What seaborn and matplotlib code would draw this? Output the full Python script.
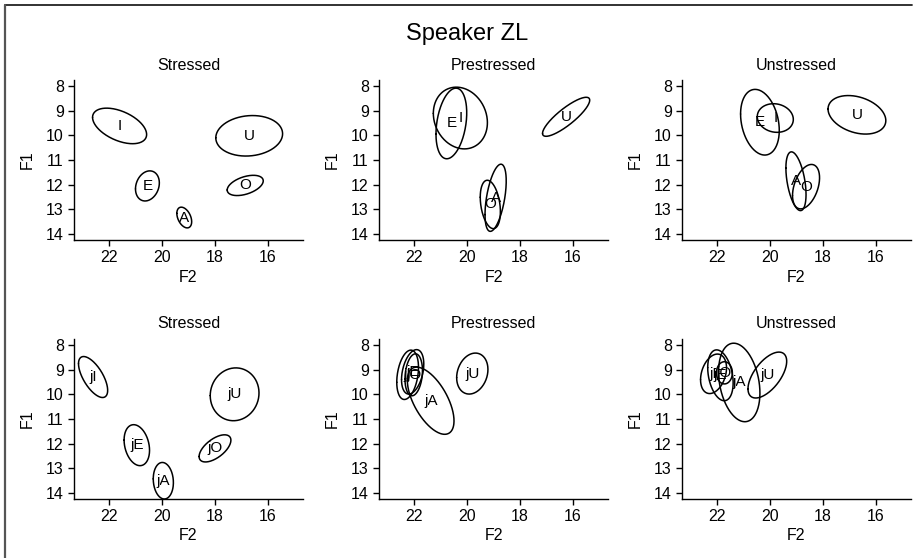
import numpy as np
import pandas as pd
import matplotlib
matplotlib.use("Agg")
import matplotlib.pyplot as plt
from matplotlib.lines import Line2D
import seaborn as sns

# ---- data: vowel ellipses (F2 centre, F1 centre, F2 radius, F1 radius, correlation) ----
conditions = ["Stressed", "Prestressed", "Unstressed"]
vowels = ["I", "E", "A", "O", "U"]
jvowels = ["jI", "jE", "jA", "jO", "jU"]

# plain vowels, stressed
st_f2 = [21.60, 20.55, 19.16, 16.86, 16.71]
st_f1 = [9.62, 12.05, 13.33, 12.03, 10.02]
st_f2_rad = [1.02, 0.45, 0.28, 0.68, 1.26]
st_f1_rad = [0.72, 0.61, 0.42, 0.41, 0.82]
st_rho = [-0.48, 0.20, -0.40, 0.45, 0.10]

# plain vowels, prestressed
pre_f2 = [20.25, 20.59, 18.92, 19.12, 16.26]
pre_f1 = [9.30, 9.52, 12.53, 12.80, 9.25]
pre_f2_rad = [1.02, 0.58, 0.40, 0.38, 0.89]
pre_f1_rad = [1.25, 1.43, 1.36, 0.98, 0.79]
pre_rho = [-0.15, 0.30, 0.50, -0.30, 0.85]

# plain vowels, unstressed
un_f2 = [19.80, 20.38, 19.02, 18.64, 16.72]
un_f1 = [9.30, 9.47, 11.86, 12.08, 9.17]
un_f2_rad = [0.68, 0.73, 0.38, 0.51, 1.09]
un_f1_rad = [0.58, 1.33, 1.19, 0.90, 0.78]
un_rho = [-0.10, -0.25, -0.45, 0.40, -0.30]

# j-vowels, stressed
jst_f2 = [22.60, 20.95, 19.95, 18.00, 17.26]
jst_f1 = [9.30, 12.06, 13.50, 12.19, 10.00]
jst_f2_rad = [0.55, 0.48, 0.38, 0.60, 0.92]
jst_f1_rad = [0.83, 0.83, 0.74, 0.55, 1.07]
jst_rho = [-0.65, -0.25, -0.10, 0.60, 0.05]

# j-vowels, prestressed
jpre_f2 = [22.24, 22.05, 21.37, 22.01, 19.80]
jpre_f1 = [9.21, 9.09, 10.26, 9.21, 9.16]
jpre_f2_rad = [0.41, 0.42, 0.88, 0.33, 0.59]
jpre_f1_rad = [1.00, 0.90, 1.36, 0.85, 0.83]
jpre_rho = [0.30, 0.35, -0.60, 0.20, 0.20]

# j-vowels, unstressed
jun_f2 = [22.13, 21.87, 21.16, 21.72, 20.10]
jun_f1 = [9.17, 9.23, 9.52, 9.13, 9.22]
jun_f2_rad = [0.49, 0.48, 0.78, 0.30, 0.73]
jun_f1_rad = [0.80, 1.03, 1.59, 0.45, 0.93]
jun_rho = [0.30, -0.30, -0.27, 0.00, 0.60]

x_ticks = [22, 20, 18, 16]
y_ticks = [8, 9, 10, 11, 12, 13, 14]

panels = [
    (vowels, st_f2, st_f1, st_f2_rad, st_f1_rad, st_rho),
    (vowels, pre_f2, pre_f1, pre_f2_rad, pre_f1_rad, pre_rho),
    (vowels, un_f2, un_f1, un_f2_rad, un_f1_rad, un_rho),
    (jvowels, jst_f2, jst_f1, jst_f2_rad, jst_f1_rad, jst_rho),
    (jvowels, jpre_f2, jpre_f1, jpre_f2_rad, jpre_f1_rad, jpre_rho),
    (jvowels, jun_f2, jun_f1, jun_f2_rad, jun_f1_rad, jun_rho),
]


def ellipse_frame(labels, f2, f1, sx, sy, rho, n=240):
    t = np.linspace(0, 2 * np.pi, n)
    rows = []
    for lab, cx, cy, a, b, r in zip(labels, f2, f1, sx, sy, rho):
        x = cx + a * np.cos(t)
        y = cy + b * (r * np.cos(t) + np.sqrt(1 - r * r) * np.sin(t))
        rows.append(pd.DataFrame({"vowel": lab, "F2": x, "F1": y, "order": np.arange(n)}))
    return pd.concat(rows, ignore_index=True)


sns.set_style("ticks")
plt.rcParams["font.family"] = ["Liberation Sans", "DejaVu Sans"]
plt.rcParams.update({
    "axes.linewidth": 1.0,
    "xtick.major.width": 1.0,
    "ytick.major.width": 1.0,
    "xtick.major.size": 4.3,
    "ytick.major.size": 4.3,
    "xtick.color": "black",
    "ytick.color": "black",
    "xtick.labelcolor": "black",
    "ytick.labelcolor": "black",
    "axes.edgecolor": "black",
    "axes.labelcolor": "black",
    "text.color": "black",
})

W, H = 916, 558
fig = plt.figure(figsize=(W / 100, H / 100), dpi=100)

col_left = [74, 379, 682]
col_w = 229
row_top = [80, 339]
row_h = 160

for i, (labels, f2, f1, sx, sy, rho) in enumerate(panels):
    r, c = divmod(i, 3)
    left = col_left[c]
    top = row_top[r]
    ax = fig.add_axes([left / W, 1 - (top + row_h) / H, col_w / W, row_h / H])
    df = ellipse_frame(labels, f2, f1, sx, sy, rho)
    sns.lineplot(data=df, x="F2", y="F1", units="vowel", estimator=None,
                 sort=False, color="black", linewidth=1.1, ax=ax, legend=False)
    for lab, cx, cy in zip(labels, f2, f1):
        ax.text(cx, cy, lab, ha="center", va="center", fontsize=11, color="black")
    ax.set_xlim(23.32, 14.68)
    ax.set_ylim(14.24, 7.76)
    ax.set_xticks(x_ticks)
    ax.set_yticks(y_ticks)
    ax.tick_params(labelsize=11.5, pad=3)
    for s in ["top", "right"]:
        ax.spines[s].set_visible(False)
    ax.set_xlabel("F2", fontsize=11.5, va="center", color="black")
    ax.set_ylabel("F1", fontsize=11.5, va="center", color="black")
    ax.xaxis.set_label_coords(0.5, -37 / row_h)
    ax.yaxis.set_label_coords(-46.5 / col_w, 0.5)
    ax.text(0.5, 1 + 15 / row_h, conditions[c], transform=ax.transAxes,
            ha="center", va="center", fontsize=11.5, color="black")

fig.text(466.7 / W, 1 - 34 / H, "Speaker ZL", ha="center", va="center",
         fontsize=17, color="black")

# outer frame (top and left edges)
fig.add_artist(Line2D([5 / W, 912 / W], [1 - 5 / H, 1 - 5 / H], transform=fig.transFigure,
                      color="#222222", linewidth=1.3))
fig.add_artist(Line2D([5 / W, 5 / W], [0, 1 - 5 / H], transform=fig.transFigure,
                      color="#555555", linewidth=1.6))

fig.savefig("out.png", dpi=100)
